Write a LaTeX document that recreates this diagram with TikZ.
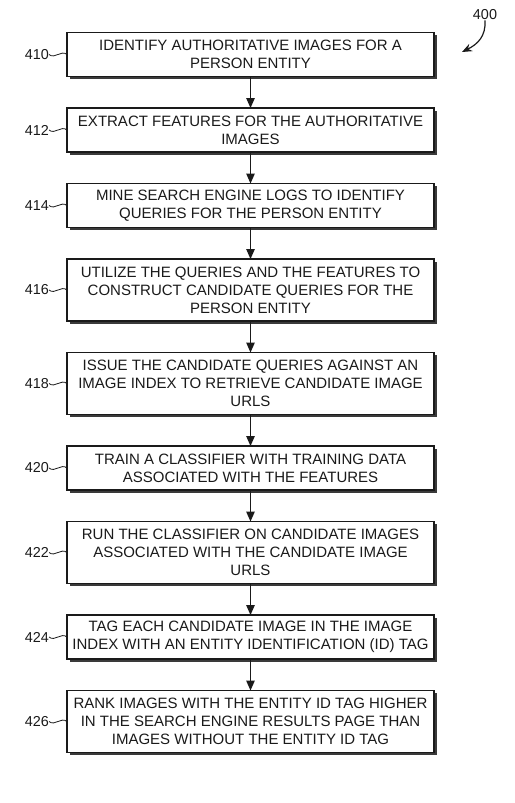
\documentclass[tikz,border=0pt]{standalone}
\usepackage{fontspec}
\setmainfont{Liberation Sans}
\usepackage{xcolor}
\usepackage{tikz}
\usetikzlibrary{arrows.meta,positioning,shadows}
\definecolor{ink}{HTML}{1A1A1A}
\definecolor{shade}{HTML}{3A3A3A}
\tikzset{
  stepbox/.style={draw=ink, line width=1.1pt, fill=white, align=center, text=ink,
    minimum width=367pt, minimum height=44pt, inner sep=4pt, outer sep=0pt,
    font=\fontsize{15}{18}\selectfont,
    drop shadow={shadow xshift=2.5pt, shadow yshift=-2.5pt, fill=shade, opacity=1}},
  tall/.style={stepbox, minimum height=62pt},
  lab/.style={text=ink, inner sep=0pt, font=\fontsize{14.4}{16}\selectfont},
  link/.style={draw=ink, line width=1.2pt, -{Triangle[length=10pt,width=8.5pt]}},
  tie/.style={draw=ink, line width=0.8pt},
  ptr/.style={draw=ink, line width=1.2pt, -{Stealth[length=10pt,width=8pt]}},
}
\begin{document}
\begin{tikzpicture}[x=1pt,y=-1pt]
\useasboundingbox (0,0) rectangle (514,803);
\node[stepbox] (b410) at (250.5,54.5) {IDENTIFY AUTHORITATIVE IMAGES FOR A\\PERSON ENTITY};
\node[stepbox, below=31.5pt of b410] (b412) {EXTRACT FEATURES FOR THE AUTHORITATIVE\\IMAGES};
\node[stepbox, below=31.5pt of b412] (b414) {MINE SEARCH ENGINE LOGS TO IDENTIFY\\QUERIES FOR THE PERSON ENTITY};
\node[tall, below=31.5pt of b414] (b416) {UTILIZE THE QUERIES AND THE FEATURES TO\\CONSTRUCT CANDIDATE QUERIES FOR THE\\PERSON ENTITY};
\node[tall, below=31.5pt of b416] (b418) {ISSUE THE CANDIDATE QUERIES AGAINST AN\\IMAGE INDEX TO RETRIEVE CANDIDATE IMAGE\\URLS};
\node[stepbox, below=31.5pt of b418] (b420) {TRAIN A CLASSIFIER WITH TRAINING DATA\\ASSOCIATED WITH THE FEATURES};
\node[tall, below=31.5pt of b420] (b422) {RUN THE CLASSIFIER ON CANDIDATE IMAGES\\ASSOCIATED WITH THE CANDIDATE IMAGE\\URLS};
\node[stepbox, below=31.5pt of b422] (b424) {TAG EACH CANDIDATE IMAGE IN THE IMAGE\\INDEX WITH AN ENTITY IDENTIFICATION (ID) TAG};
\node[tall, below=31.5pt of b424] (b426) {RANK IMAGES WITH THE ENTITY ID TAG HIGHER\\IN THE SEARCH ENGINE RESULTS PAGE THAN\\IMAGES WITHOUT THE ENTITY ID TAG};
\foreach \a/\b in {410/412,412/414,414/416,416/418,418/420,420/422,422/424,424/426}
  \draw[link] (b\a) -- (b\b);
\foreach \n in {410,412,...,426}{
  \node[lab, left=18pt of b\n.west] (l\n) {\n};
  \draw[tie] (l\n.east) .. controls +(6,5) and +(-6,-5) .. (b\n.west);
}
\node[lab] (n400) at (485,15) {400};
\coordinate (p400) at (462,52);
\draw[ptr] (n400.south) .. controls (486,36) and (478,44) .. (p400);
\end{tikzpicture}
\end{document}
